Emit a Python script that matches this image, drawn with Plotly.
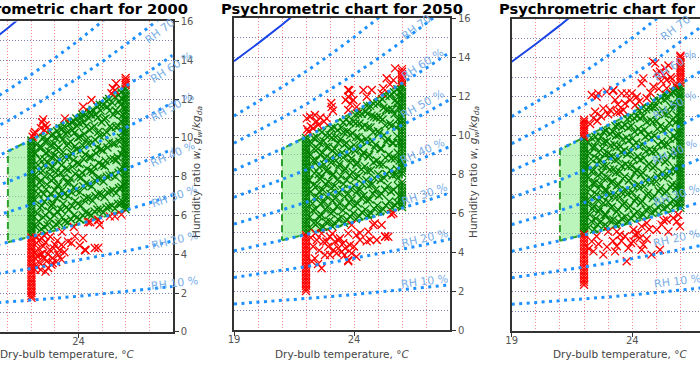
import plotly.graph_objects as go

FIG_W, FIG_H = 700, 366

# ---------------- data ----------------
T_GRID = [19, 20, 21, 22, 23, 24, 25, 26, 27, 28]
RH10_W = [1.352, 1.439, 1.531, 1.628, 1.730, 1.838, 1.952, 2.072, 2.198, 2.331]
RH20_W = [2.710, 2.885, 3.069, 3.264, 3.470, 3.687, 3.916, 4.157, 4.411, 4.679]
RH30_W = [4.074, 4.338, 4.616, 4.909, 5.219, 5.547, 5.892, 6.256, 6.640, 7.044]
RH40_W = [5.444, 5.797, 6.169, 6.563, 6.979, 7.418, 7.881, 8.369, 8.885, 9.428]
RH50_W = [6.820, 7.264, 7.731, 8.225, 8.748, 9.300, 9.882, 10.497, 11.146, 11.830]
RH60_W = [8.202, 8.737, 9.300, 9.896, 10.527, 11.193, 11.896, 12.640, 13.423, 14.250]
RH70_W = [9.590, 10.217, 10.877, 11.576, 12.316, 13.098, 13.923, 14.796, 15.717, 16.689]
RH80_W = [10.980, 11.704, 12.462, 13.265, 14.115, 15.014, 15.960, 16.967, 18.030, 19.150]
SAT_T = [19, 20, 21, 22]
SAT_W = [13.791, 14.699, 15.656, 16.671]

COMFORT_T = [21, 22, 23, 24, 25, 26]
COMFORT_LOW = [4.616, 4.909, 5.219, 5.547, 5.892, 6.256]
COMFORT_HIGH = [9.300, 9.896, 10.527, 11.193, 11.896, 12.640]

RH_LABELS = ["RH 10 %", "RH 20 %", "RH 30 %", "RH 40 %", "RH 50 %", "RH 60 %", "RH 70"]
RH_LABEL_T = [26.95, 26.95, 26.95, 26.85, 26.85, 26.85, 26.6]
RH_LABEL_W = [2.50, 4.72, 6.95, 9.15, 11.55, 13.62, 15.5]
RH_LABEL_ANGLE = [7, 13, 19, 24, 29, 33, 37]

YEARS = ["2000", "2050", "2080"]

# ---- 2000 ----
GREEN_2000 = [
    (22.18, 5.4), (22.25, 6.1), (22.15, 6.8), (22.3, 7.4), (22.2, 8.0), (22.28, 8.6), (22.17, 9.2), (22.26, 9.7),
    (22.42, 5.3), (22.5, 5.9), (22.44, 6.5), (22.52, 7.1), (22.4, 7.8), (22.48, 8.3), (22.55, 8.9), (22.43, 9.5), (22.5, 10.0),
    (22.68, 5.5), (22.75, 6.2), (22.7, 6.9), (22.66, 7.6), (22.78, 8.1), (22.7, 8.7), (22.74, 9.3), (22.68, 9.9),
    (22.93, 5.4), (22.98, 6.0), (22.9, 6.6), (23.0, 7.3), (22.95, 7.9), (22.92, 8.5), (23.0, 9.1), (22.96, 9.7), (22.9, 10.2),
    (23.18, 5.6), (23.25, 6.3), (23.2, 7.0), (23.15, 7.6), (23.24, 8.2), (23.2, 8.9), (23.16, 9.5), (23.22, 10.1), (23.2, 10.5),
    (23.43, 5.7), (23.48, 6.4), (23.4, 7.1), (23.5, 7.7), (23.45, 8.4), (23.42, 9.0), (23.5, 9.6), (23.46, 10.2), (23.4, 10.6),
    (23.68, 5.8), (23.72, 6.5), (23.7, 7.2), (23.66, 7.9), (23.74, 8.5), (23.7, 9.2), (23.66, 9.8), (23.73, 10.4), (23.7, 10.8),
    (23.93, 5.9), (23.97, 6.6), (23.9, 7.3), (24.0, 8.0), (23.95, 8.7), (23.92, 9.4), (23.98, 10.0), (23.94, 10.6), (23.9, 11.0),
    (24.18, 6.0), (24.23, 6.8), (24.2, 7.5), (24.15, 8.2), (24.22, 8.9), (24.18, 9.6), (24.24, 10.2), (24.2, 10.8), (24.16, 11.2),
    (24.43, 6.1), (24.48, 6.9), (24.42, 7.6), (24.5, 8.3), (24.45, 9.0), (24.4, 9.7), (24.47, 10.4), (24.44, 11.0), (24.5, 11.3),
    (24.68, 6.2), (24.72, 7.0), (24.7, 7.8), (24.66, 8.5), (24.74, 9.2), (24.7, 9.9), (24.67, 10.6), (24.72, 11.2),
    (24.93, 6.3), (24.97, 7.1), (24.92, 7.9), (25.0, 8.6), (24.95, 9.4), (24.9, 10.1), (24.98, 10.8), (24.94, 11.4), (24.9, 11.7),
    (25.18, 6.4), (25.22, 7.2), (25.2, 8.0), (25.15, 8.8), (25.23, 9.5), (25.19, 10.3), (25.16, 11.0), (25.22, 11.6), (25.2, 11.9),
    (25.43, 6.5), (25.47, 7.3), (25.42, 8.1), (25.5, 8.9), (25.45, 9.7), (25.4, 10.5), (25.48, 11.2), (25.44, 11.8),
    (25.68, 6.6), (25.72, 7.4), (25.7, 8.2), (25.66, 9.0), (25.74, 9.8), (25.7, 10.6), (25.67, 11.3), (25.72, 11.9), (25.7, 12.2),
    (25.88, 6.7), (25.9, 7.6), (25.85, 8.5), (25.9, 9.4), (25.87, 10.3), (25.9, 11.2), (25.86, 12.0),
    # second, interleaved layer of the dense cloud
    (22.3, 5.7), (22.36, 6.4), (22.29, 7.1), (22.35, 7.7), (22.31, 8.3), (22.37, 8.9), (22.33, 9.5),
    (22.55, 5.4), (22.6, 6.0), (22.56, 6.7), (22.62, 7.35), (22.58, 8.0), (22.54, 8.6), (22.6, 9.2), (22.57, 9.8),
    (22.8, 5.8), (22.86, 6.5), (22.81, 7.1), (22.85, 7.8), (22.79, 8.4), (22.84, 9.0), (22.82, 9.6), (22.86, 10.1),
    (23.05, 5.55), (23.1, 6.2), (23.06, 6.9), (23.11, 7.5), (23.04, 8.2), (23.09, 8.8), (23.07, 9.4), (23.03, 10.0), (23.09, 10.35),
    (23.3, 5.9), (23.35, 6.6), (23.31, 7.3), (23.36, 7.95), (23.29, 8.6), (23.34, 9.25), (23.32, 9.9), (23.3, 10.45),
    (23.55, 5.65), (23.6, 6.3), (23.56, 7.0), (23.61, 7.7), (23.54, 8.35), (23.59, 9.0), (23.57, 9.7), (23.53, 10.3), (23.6, 10.7),
    (23.8, 6.0), (23.85, 6.75), (23.81, 7.45), (23.86, 8.15), (23.79, 8.85), (23.84, 9.55), (23.82, 10.25), (23.8, 10.85),
    (24.05, 5.8), (24.1, 6.5), (24.06, 7.2), (24.11, 7.95), (24.04, 8.65), (24.09, 9.35), (24.07, 10.05), (24.03, 10.75), (24.1, 11.05),
    (24.3, 6.15), (24.35, 6.9), (24.31, 7.65), (24.36, 8.4), (24.29, 9.15), (24.34, 9.9), (24.32, 10.6), (24.3, 11.2),
    (24.55, 6.0), (24.6, 6.75), (24.56, 7.5), (24.61, 8.25), (24.54, 9.0), (24.59, 9.75), (24.57, 10.5), (24.53, 11.2), (24.6, 11.45),
    (24.8, 6.3), (24.85, 7.1), (24.81, 7.9), (24.86, 8.7), (24.79, 9.5), (24.84, 10.3), (24.82, 11.05), (24.8, 11.6),
    (25.05, 6.15), (25.1, 6.95), (25.06, 7.75), (25.11, 8.55), (25.04, 9.35), (25.09, 10.15), (25.07, 10.95), (25.05, 11.7),
    (25.3, 6.45), (25.35, 7.25), (25.31, 8.05), (25.36, 8.9), (25.29, 9.75), (25.34, 10.6), (25.32, 11.4), (25.3, 12.0),
    (25.55, 6.35), (25.6, 7.15), (25.56, 8.0), (25.61, 8.85), (25.54, 9.7), (25.59, 10.55), (25.57, 11.4), (25.55, 12.1),
    (25.8, 6.6), (25.82, 7.45), (25.79, 8.3), (25.83, 9.15), (25.8, 10.0), (25.81, 10.85), (25.79, 11.7), (25.82, 12.35),
]
G22_2000 = [5.0, 5.12, 5.27, 5.4, 5.55, 5.68, 5.83, 5.97, 6.1, 6.26, 6.4, 6.53, 6.68, 6.82, 6.95, 7.1, 7.24, 7.37,
            7.52, 7.66, 7.8, 7.94, 8.08, 8.22, 8.36, 8.5, 8.64, 8.78, 8.92, 9.06, 9.2, 9.34, 9.48, 9.62, 9.76, 9.86]
G26_2000 = [6.32, 6.46, 6.6, 6.75, 6.9, 7.04, 7.18, 7.33, 7.47, 7.62, 7.76, 7.9, 8.05, 8.2, 8.34, 8.48, 8.63, 8.77,
            8.92, 9.06, 9.2, 9.35, 9.5, 9.64, 9.78, 9.93, 10.07, 10.22, 10.36, 10.5, 10.65, 10.8, 10.94, 11.08,
            11.22, 11.37, 11.52, 11.66, 11.8, 11.95, 12.1, 12.24, 12.38, 12.52]
RED_2000 = [
    (22.22, 4.58), (22.29, 3.63), (22.36, 3.97), (22.43, 4.84), (22.5, 4.41), (22.64, 3.63), (22.71, 3.29),
    (22.78, 4.23), (22.85, 3.46), (23.0, 4.49), (23.14, 3.97), (23.28, 3.72), (23.28, 4.49), (23.3, 5.15),
    (23.7, 4.58), (23.84, 4.92), (23.8, 5.4), (24.19, 4.83), (24.27, 4.23), (24.41, 5.65), (24.69, 4.32),
    (24.83, 4.32), (24.83, 5.78), (24.9, 5.52), (25.33, 5.95), (25.54, 5.95), (25.82, 6.04),
    (22.15, 4.1), (22.2, 3.4), (22.3, 4.3), (22.4, 3.5), (22.45, 4.0), (22.55, 3.8), (22.6, 4.6), (22.55, 4.95),
    (22.35, 4.75), (22.7, 4.0), (22.9, 3.8), (22.95, 4.3), (23.1, 4.7), (23.2, 4.2), (22.8, 4.9), (22.25, 3.9),
    (22.15, 3.2), (23.05, 3.6), (23.4, 4.1), (23.55, 4.65), (24.05, 4.45), (24.3, 4.2), (24.85, 5.75),
    (22.6, 3.1), (22.4, 3.2), (22.9, 3.55), (22.2, 4.85), (24.5, 5.65),
    (22.05, 10.05), (22.1, 10.2), (22.15, 10.3), (22.4, 10.5), (22.45, 10.8), (22.5, 10.95), (22.55, 10.4),
    (22.65, 10.5), (22.6, 10.65), (23.42, 11.0), (24.2, 11.6), (24.55, 11.95), (25.4, 12.3), (25.46, 12.55),
    (25.6, 12.8), (25.55, 12.45),
]
R22_2000 = [1.75, 1.86, 2.0, 2.13, 2.27, 2.41, 2.55, 2.68, 2.82, 2.96, 3.1, 3.23, 3.37, 3.51, 3.65, 3.78,
            3.92, 4.06, 4.2, 4.33, 4.47, 4.61, 4.74, 4.86]
R26_2000 = [12.72, 12.84, 12.96, 13.08]

# ---- 2050 ----
GREEN_2050 = [
    (22.22, 5.2), (22.16, 5.8), (22.27, 6.5), (22.2, 7.1), (22.14, 7.7), (22.25, 8.4), (22.19, 9.0), (22.23, 9.6),
    (22.47, 5.5), (22.4, 6.2), (22.5, 6.8), (22.45, 7.4), (22.53, 8.0), (22.41, 8.7), (22.49, 9.3), (22.44, 9.9),
    (22.72, 5.3), (22.65, 5.9), (22.76, 6.6), (22.7, 7.2), (22.64, 7.9), (22.75, 8.5), (22.69, 9.1), (22.73, 9.7), (22.66, 10.15),
    (22.97, 5.6), (22.9, 6.3), (23.01, 7.0), (22.94, 7.6), (22.89, 8.2), (23.0, 8.8), (22.93, 9.4), (22.98, 10.0),
    (23.22, 5.45), (23.15, 6.1), (23.26, 6.8), (23.2, 7.4), (23.14, 8.0), (23.25, 8.7), (23.19, 9.3), (23.23, 9.9), (23.17, 10.4),
    (23.47, 5.8), (23.4, 6.5), (23.51, 7.2), (23.45, 7.9), (23.39, 8.5), (23.5, 9.1), (23.44, 9.8), (23.48, 10.4),
    (23.72, 5.65), (23.65, 6.3), (23.76, 7.0), (23.7, 7.7), (23.64, 8.3), (23.75, 9.0), (23.69, 9.6), (23.73, 10.2), (23.67, 10.8),
    (23.97, 6.0), (23.9, 6.7), (24.01, 7.4), (23.95, 8.1), (23.89, 8.8), (24.0, 9.5), (23.94, 10.1), (23.98, 10.7),
    (24.22, 5.85), (24.15, 6.5), (24.26, 7.2), (24.2, 7.9), (24.14, 8.6), (24.25, 9.3), (24.19, 9.9), (24.23, 10.6), (24.17, 11.1),
    (24.47, 6.2), (24.4, 6.9), (24.51, 7.7), (24.45, 8.4), (24.39, 9.1), (24.5, 9.8), (24.44, 10.5), (24.48, 11.2),
    (24.72, 6.0), (24.65, 6.7), (24.76, 7.5), (24.7, 8.2), (24.64, 9.0), (24.75, 9.7), (24.69, 10.4), (24.73, 11.0), (24.67, 11.5),
    (24.97, 6.4), (24.9, 7.2), (25.01, 8.0), (24.95, 8.7), (24.89, 9.5), (25.0, 10.2), (24.94, 10.9), (24.98, 11.6),
    (25.22, 6.2), (25.15, 7.0), (25.26, 7.8), (25.2, 8.5), (25.14, 9.3), (25.25, 10.0), (25.19, 10.8), (25.23, 11.4), (25.17, 11.85),
    (25.47, 6.6), (25.4, 7.4), (25.51, 8.2), (25.45, 9.0), (25.39, 9.8), (25.5, 10.6), (25.44, 11.3), (25.48, 12.0),
    (25.72, 6.4), (25.65, 7.2), (25.76, 8.0), (25.7, 8.8), (25.64, 9.6), (25.75, 10.4), (25.69, 11.1), (25.73, 11.8), (25.67, 12.2),
    (25.88, 6.9), (25.84, 7.8), (25.9, 8.7), (25.86, 9.6), (25.89, 10.5), (25.85, 11.4), (25.9, 12.2),
    # second, interleaved layer of the dense cloud
    (22.33, 5.5), (22.29, 6.15), (22.36, 6.8), (22.31, 7.45), (22.35, 8.05), (22.3, 8.7), (22.34, 9.3), (22.32, 9.85),
    (22.58, 5.2), (22.54, 5.85), (22.61, 6.5), (22.56, 7.1), (22.6, 7.75), (22.55, 8.35), (22.59, 9.0), (22.57, 9.6),
    (22.83, 5.55), (22.79, 6.2), (22.86, 6.85), (22.81, 7.5), (22.85, 8.15), (22.8, 8.8), (22.84, 9.4), (22.82, 10.0),
    (23.08, 5.35), (23.04, 6.0), (23.11, 6.65), (23.06, 7.3), (23.1, 7.95), (23.05, 8.6), (23.09, 9.2), (23.07, 9.85), (23.05, 10.35),
    (23.33, 5.7), (23.29, 6.35), (23.36, 7.05), (23.31, 7.7), (23.35, 8.35), (23.3, 9.0), (23.34, 9.6), (23.32, 10.25),
    (23.58, 5.5), (23.54, 6.15), (23.61, 6.85), (23.56, 7.5), (23.6, 8.2), (23.55, 8.85), (23.59, 9.5), (23.57, 10.15), (23.55, 10.65),
    (23.83, 5.85), (23.79, 6.55), (23.86, 7.25), (23.81, 7.95), (23.85, 8.6), (23.8, 9.3), (23.84, 10.0), (23.82, 10.65),
    (24.08, 5.7), (24.04, 6.4), (24.11, 7.1), (24.06, 7.8), (24.1, 8.5), (24.05, 9.2), (24.09, 9.9), (24.07, 10.6), (24.05, 11.05),
    (24.33, 6.05), (24.29, 6.8), (24.36, 7.5), (24.31, 8.25), (24.35, 8.95), (24.3, 9.7), (24.34, 10.4), (24.32, 11.1),
    (24.58, 5.9), (24.54, 6.65), (24.61, 7.4), (24.56, 8.15), (24.6, 8.9), (24.55, 9.65), (24.59, 10.4), (24.57, 11.1), (24.55, 11.5),
    (24.83, 6.25), (24.79, 7.0), (24.86, 7.8), (24.81, 8.6), (24.85, 9.35), (24.8, 10.15), (24.84, 10.95), (24.82, 11.6),
    (25.08, 6.1), (25.04, 6.9), (25.11, 7.7), (25.06, 8.5), (25.1, 9.3), (25.05, 10.1), (25.09, 10.9), (25.07, 11.7),
    (25.33, 6.4), (25.29, 7.2), (25.36, 8.0), (25.31, 8.85), (25.35, 9.65), (25.3, 10.5), (25.34, 11.3), (25.32, 12.0),
    (25.58, 6.3), (25.54, 7.1), (25.61, 7.95), (25.56, 8.8), (25.6, 9.6), (25.55, 10.45), (25.59, 11.3), (25.57, 12.1),
    (25.8, 6.55), (25.83, 7.4), (25.79, 8.25), (25.82, 9.1), (25.8, 9.95), (25.83, 10.8), (25.79, 11.65), (25.81, 12.35),
]
G22_2050 = [5.02, 5.15, 5.29, 5.42, 5.56, 5.7, 5.84, 5.98, 6.12, 6.25, 6.39, 6.53, 6.67, 6.8, 6.94, 7.08, 7.22,
            7.36, 7.5, 7.63, 7.77, 7.91, 8.05, 8.19, 8.33, 8.46, 8.6, 8.74, 8.88, 9.02, 9.16, 9.3, 9.44, 9.58, 9.72, 9.85]
G26_2050 = [6.32, 6.46, 6.6, 6.74, 6.88, 7.02, 7.16, 7.3, 7.44, 7.58, 8.05, 8.19, 8.33, 8.47, 8.62, 8.76, 8.9,
            9.04, 9.18, 9.33, 9.47, 9.61, 9.75, 9.9, 10.04, 10.18, 10.32, 10.47, 10.61, 10.75, 10.89, 11.04,
            11.18, 11.32, 11.46, 11.61, 11.75, 11.89, 12.03, 12.18, 12.32, 12.46, 12.56]
RED_2050 = [
    (22.38, 4.98), (22.65, 4.97), (22.45, 4.63), (22.72, 4.54), (23.0, 4.8), (23.2, 4.54), (23.42, 4.72),
    (23.55, 4.46), (23.76, 4.97), (23.9, 5.4), (24.1, 4.88), (24.25, 4.63), (23.83, 4.37), (23.63, 4.2),
    (23.35, 4.2), (23.14, 4.12), (22.93, 4.29), (23.0, 3.86), (23.28, 3.95), (23.49, 4.03), (23.76, 3.6),
    (24.1, 3.77), (23.9, 3.95), (22.65, 3.18), (22.37, 3.69), (22.79, 3.86), (24.6, 5.05), (24.87, 5.48),
    (25.15, 5.4), (24.67, 4.63), (24.95, 4.63), (25.3, 4.8), (25.43, 4.8), (25.64, 6.0), (22.24, 3.54),
    (23.76, 3.54), (24.8, 5.41), (25.55, 5.95), (25.3, 4.82), (24.53, 4.56), (24.25, 4.99), (22.3, 4.3),
    (22.55, 4.1), (22.2, 4.75), (23.1, 4.95), (23.35, 4.6), (24.0, 4.3), (22.85, 4.55), (23.6, 3.85), (22.5, 3.4),
    (22.03, 10.86), (22.17, 10.94), (22.37, 11.03), (22.51, 10.52), (22.1, 10.17), (22.86, 10.86), (23.07, 11.45),
    (23.12, 11.25), (23.76, 12.31), (23.76, 11.97), (23.76, 11.29), (23.97, 11.8), (24.11, 11.45), (23.85, 11.6),
    (24.39, 12.31), (24.74, 12.31), (24.53, 11.97), (25.22, 12.4), (25.36, 12.91), (25.71, 13.42), (25.64, 12.82),
    (25.15, 12.14), (22.05, 10.3), (22.2, 10.45), (22.3, 10.35), (23.65, 11.8), (23.8, 12.3), (22.6, 10.9),
    (22.75, 10.7), (22.45, 10.7), (23.05, 11.65), (23.9, 12.1), (25.5, 12.6),
]
R22_2050 = [2.02, 2.15, 2.29, 2.43, 2.57, 2.7, 2.84, 2.98, 3.12, 3.25, 3.39, 3.53, 3.67, 3.8, 3.94, 4.08,
            4.22, 4.35, 4.49, 4.63, 4.77, 4.88]
R26_2050 = [12.72, 12.85, 12.98, 13.12, 13.25, 13.38]

# ---- 2080 ----
GREEN_2080 = [
    (22.19, 5.3), (22.24, 5.95), (22.17, 6.6), (22.26, 7.25), (22.2, 7.85), (22.15, 8.45), (22.24, 9.1), (22.18, 9.65),
    (22.43, 5.2), (22.49, 5.75), (22.41, 6.4), (22.52, 7.0), (22.46, 7.6), (22.4, 8.25), (22.51, 8.85), (22.45, 9.45), (22.47, 9.95),
    (22.71, 5.6), (22.66, 6.25), (22.75, 6.85), (22.69, 7.5), (22.73, 8.1), (22.67, 8.75), (22.76, 9.35), (22.7, 9.95),
    (22.96, 5.35), (22.91, 5.95), (23.0, 6.6), (22.94, 7.2), (22.98, 7.85), (22.92, 8.45), (23.01, 9.1), (22.95, 9.7), (22.9, 10.25),
    (23.21, 5.7), (23.16, 6.35), (23.25, 7.0), (23.19, 7.65), (23.23, 8.3), (23.17, 8.95), (23.26, 9.55), (23.2, 10.2),
    (23.46, 5.55), (23.41, 6.2), (23.5, 6.85), (23.44, 7.5), (23.48, 8.15), (23.42, 8.8), (23.51, 9.45), (23.45, 10.05), (23.4, 10.55),
    (23.71, 5.85), (23.66, 6.55), (23.75, 7.2), (23.69, 7.9), (23.73, 8.55), (23.67, 9.25), (23.76, 9.9), (23.7, 10.55),
    (23.96, 5.75), (23.91, 6.4), (24.0, 7.1), (23.94, 7.8), (23.98, 8.45), (23.92, 9.15), (24.01, 9.85), (23.95, 10.5), (23.9, 10.95),
    (24.21, 6.1), (24.16, 6.8), (24.25, 7.5), (24.19, 8.25), (24.23, 8.95), (24.17, 9.65), (24.26, 10.35), (24.2, 11.0),
    (24.46, 5.95), (24.41, 6.65), (24.5, 7.4), (24.44, 8.1), (24.48, 8.85), (24.42, 9.55), (24.51, 10.3), (24.45, 11.0), (24.4, 11.4),
    (24.71, 6.3), (24.66, 7.05), (24.75, 7.8), (24.69, 8.55), (24.73, 9.3), (24.67, 10.05), (24.76, 10.8), (24.7, 11.45),
    (24.96, 6.15), (24.91, 6.9), (25.0, 7.65), (24.94, 8.45), (24.98, 9.2), (24.92, 10.0), (25.01, 10.75), (24.95, 11.5), (24.9, 11.75),
    (25.21, 6.5), (25.16, 7.3), (25.25, 8.1), (25.19, 8.9), (25.23, 9.7), (25.17, 10.5), (25.26, 11.3), (25.2, 11.95),
    (25.46, 6.35), (25.41, 7.15), (25.5, 7.95), (25.44, 8.75), (25.48, 9.55), (25.42, 10.35), (25.51, 11.15), (25.45, 11.9), (25.4, 12.1),
    (25.71, 6.7), (25.66, 7.5), (25.75, 8.35), (25.69, 9.15), (25.73, 10.0), (25.67, 10.8), (25.76, 11.6), (25.7, 12.25),
    (25.89, 6.55), (25.85, 7.45), (25.9, 8.35), (25.86, 9.25), (25.88, 10.15), (25.84, 11.05), (25.9, 11.95), (25.86, 12.45),
    # second, interleaved layer of the dense cloud
    (22.31, 5.6), (22.35, 6.25), (22.3, 6.9), (22.36, 7.55), (22.32, 8.15), (22.29, 8.8), (22.34, 9.4), (22.3, 9.9),
    (22.56, 5.45), (22.6, 6.1), (22.55, 6.7), (22.61, 7.3), (22.57, 7.95), (22.54, 8.55), (22.6, 9.15), (22.58, 9.75),
    (22.81, 5.35), (22.85, 5.95), (22.8, 6.55), (22.86, 7.2), (22.82, 7.8), (22.79, 8.45), (22.85, 9.05), (22.83, 9.65), (22.8, 10.2),
    (23.06, 5.65), (23.1, 6.3), (23.05, 6.95), (23.11, 7.6), (23.07, 8.25), (23.04, 8.9), (23.1, 9.5), (23.08, 10.1),
    (23.31, 5.45), (23.35, 6.1), (23.3, 6.8), (23.36, 7.45), (23.32, 8.1), (23.29, 8.75), (23.35, 9.4), (23.33, 10.0), (23.3, 10.5),
    (23.56, 5.75), (23.6, 6.45), (23.55, 7.1), (23.61, 7.8), (23.57, 8.45), (23.54, 9.15), (23.6, 9.8), (23.58, 10.45),
    (23.81, 5.6), (23.85, 6.3), (23.8, 7.0), (23.86, 7.7), (23.82, 8.4), (23.79, 9.05), (23.85, 9.75), (23.83, 10.4), (23.8, 10.85),
    (24.06, 5.95), (24.1, 6.65), (24.05, 7.4), (24.11, 8.1), (24.07, 8.8), (24.04, 9.5), (24.1, 10.2), (24.08, 10.9),
    (24.31, 5.85), (24.35, 6.55), (24.3, 7.3), (24.36, 8.0), (24.32, 8.75), (24.29, 9.45), (24.35, 10.2), (24.33, 10.9), (24.3, 11.3),
    (24.56, 6.2), (24.6, 6.95), (24.55, 7.7), (24.61, 8.45), (24.57, 9.2), (24.54, 9.95), (24.6, 10.7), (24.58, 11.35),
    (24.81, 6.05), (24.85, 6.8), (24.8, 7.6), (24.86, 8.35), (24.82, 9.15), (24.79, 9.9), (24.85, 10.7), (24.83, 11.45),
    (25.06, 6.35), (25.1, 7.15), (25.05, 7.95), (25.11, 8.75), (25.07, 9.55), (25.04, 10.35), (25.1, 11.15), (25.08, 11.8),
    (25.31, 6.25), (25.35, 7.05), (25.3, 7.85), (25.36, 8.65), (25.32, 9.5), (25.29, 10.3), (25.35, 11.1), (25.33, 11.85),
    (25.56, 6.55), (25.6, 7.35), (25.55, 8.2), (25.61, 9.0), (25.57, 9.85), (25.54, 10.65), (25.6, 11.5), (25.58, 12.15),
    (25.79, 6.45), (25.82, 7.3), (25.8, 8.15), (25.83, 9.0), (25.79, 9.85), (25.82, 10.7), (25.8, 11.55), (25.81, 12.3),
]
G22_2080 = [5.01, 5.14, 5.28, 5.41, 5.55, 5.69, 5.83, 5.97, 6.11, 6.24, 6.38, 6.52, 6.66, 6.79, 6.93, 7.07,
            7.21, 7.35, 7.49, 7.62, 7.76, 7.9, 8.04, 8.18, 8.32, 8.45, 8.59, 8.73, 8.87, 9.01, 9.15, 9.29, 9.43,
            9.57, 9.71, 9.84]
G26_2080 = [6.3, 6.44, 6.58, 6.72, 6.87, 7.01, 7.15, 7.29, 7.43, 7.58, 7.72, 7.86, 8.0, 8.14, 8.29, 8.43,
            8.57, 8.71, 8.85, 9.0, 9.14, 9.28, 9.42, 9.56, 9.71, 9.85, 9.99, 10.13, 10.27, 10.42, 10.56, 10.7,
            10.84, 10.98, 11.13, 11.27, 11.41, 11.55, 11.69, 11.84, 11.98, 12.12, 12.26, 12.4, 12.54]
RED_2080 = [
    (22.32, 4.58), (22.52, 4.84), (22.39, 4.07), (22.8, 3.9), (23.36, 5.08), (23.49, 4.92), (23.29, 4.07),
    (23.36, 4.33), (23.77, 3.56), (23.84, 4.24), (24.05, 4.58), (24.12, 4.92), (24.32, 4.75), (24.46, 4.41),
    (24.39, 4.15), (24.05, 5.18), (24.39, 5.35), (24.6, 5.52), (24.8, 3.9), (25.02, 5.18), (25.15, 4.15),
    (25.22, 5.44), (25.43, 5.69), (25.5, 5.08), (25.7, 5.78), (25.91, 5.95), (25.98, 5.35), (23.7, 4.84),
    (23.0, 5.08), (22.2, 4.2), (22.6, 4.45), (23.55, 4.6), (23.95, 4.5), (24.25, 5.0), (24.7, 5.2),
    (25.3, 5.65), (25.85, 5.6), (24.6, 4.7), (23.2, 4.6), (22.95, 4.3),
    (22.39, 10.9), (22.46, 11.23), (22.32, 12.09), (22.59, 12.17), (22.94, 12.26), (23.22, 12.34), (23.29, 11.83),
    (22.8, 11.4), (23.08, 11.32), (23.35, 11.2), (23.49, 11.23), (23.63, 11.32), (23.56, 12.17), (23.77, 12.17),
    (23.98, 12.17), (23.91, 11.83), (24.19, 12.0), (24.12, 11.57), (24.39, 12.69), (24.46, 12.94), (24.6, 11.92),
    (24.88, 12.51), (24.95, 13.71), (25.02, 13.2), (25.15, 13.28), (25.3, 13.1), (25.43, 12.86), (25.36, 13.46),
    (25.43, 12.43), (25.78, 12.6), (22.52, 12.0), (23.2, 12.3), (22.25, 10.6), (22.55, 10.75), (22.7, 11.0),
    (23.0, 11.1), (23.4, 11.6), (23.7, 11.65), (24.3, 11.75), (24.75, 12.2), (25.1, 12.4), (25.6, 13.0),
    (25.2, 12.8), (24.85, 13.8), (25.5, 13.6), (25.65, 12.9),
]
R22_2080 = [2.36, 2.5, 2.63, 2.77, 2.9, 3.04, 3.17, 3.31, 3.45, 3.58, 3.72, 3.85, 3.99, 4.12, 4.26, 4.4,
            4.53, 4.67, 4.8, 4.93, 9.95, 10.08, 10.2, 10.33, 10.46, 10.58, 10.7, 10.82]
R26_2080 = [12.72, 12.85, 12.98, 13.11, 13.24, 13.37, 13.5, 13.63, 13.76, 13.89, 14.02, 14.1]

# ---------------- layout geometry (pixels of the 700x366 page) ----------------
PANELS = [
    dict(x0=0.0, x1=172.7, xr=[20.665, 28.0], yb=331.8, yt=21.4, yside="right", ymirror=False,
         yticks=True, center=66.7, ylab_x=197.0),
    dict(x0=234.0, x1=450.0, xr=[19.0, 28.0], yb=330.4, yt=18.0, yside="right", ymirror=True,
         yticks=True, center=342.0, ylab_x=474.0),
    dict(x0=511.7, x1=700.0, xr=[19.0, 26.81], yb=330.7, yt=18.7, yside="left", ymirror=False,
         yticks=False, center=620.0, ylab_x=None),
]
DATA = [
    (GREEN_2000, G22_2000, G26_2000, RED_2000, R22_2000, R26_2000),
    (GREEN_2050, G22_2050, G26_2050, RED_2050, R22_2050, R26_2050),
    (GREEN_2080, G22_2080, G26_2080, RED_2080, R22_2080, R26_2080),
]
RH_SERIES = [RH10_W, RH20_W, RH30_W, RH40_W, RH50_W, RH60_W, RH70_W, RH80_W]

FONT = "DejaVu Sans"
RED_GRID = "rgba(255,0,0,0.45)"
NAVY_GRID = "rgba(20,20,110,0.55)"
SPINE = "#333333"

fig = go.Figure()
layout = dict(width=FIG_W, height=FIG_H, autosize=False, margin=dict(l=0, r=0, t=0, b=0, autoexpand=False),
              paper_bgcolor="white", plot_bgcolor="white", showlegend=False,
              font=dict(family=FONT, size=10, color="#444"))
annotations = []

poly_T = COMFORT_T + COMFORT_T[::-1] + [COMFORT_T[0]]
poly_W = COMFORT_LOW + COMFORT_HIGH[::-1] + [COMFORT_LOW[0]]

for i, (p, year, d) in enumerate(zip(PANELS, YEARS, DATA)):
    sfx = "" if i == 0 else str(i + 1)
    xa, ya = "x" + sfx, "y" + sfx
    green, g22, g26, red, r22, r26 = d
    common = dict(xaxis=xa, yaxis=ya, hoverinfo="skip", showlegend=False)

    fig.add_trace(go.Scatter(x=poly_T, y=poly_W, mode="lines", fill="toself",
                             fillcolor="rgba(144,238,144,0.6)",
                             line=dict(color="#2ca02c", width=2, dash="7px,4px"), **common))

    gx = [q[0] for q in green] + [22.0] * len(g22) + [26.0] * len(g26)
    gy = [q[1] for q in green] + g22 + g26
    fig.add_trace(go.Scatter(x=gx, y=gy, mode="markers",
                             marker=dict(symbol="x-thin", size=8, color="#008000",
                                         line=dict(width=1.3, color="#008000")), **common))
    rx = [q[0] for q in red] + [22.0] * len(r22) + [26.0] * len(r26)
    ry = [q[1] for q in red] + r22 + r26
    fig.add_trace(go.Scatter(x=rx, y=ry, mode="markers",
                             marker=dict(symbol="x-thin", size=8, color="#ff0000",
                                         line=dict(width=1.3, color="#ff0000")), **common))

    for ws in RH_SERIES:
        fig.add_trace(go.Scatter(x=T_GRID[:len(ws)], y=ws, mode="lines",
                                 line=dict(color="#1e90ff", width=3, dash="3px,4.5px"), **common))
    fig.add_trace(go.Scatter(x=SAT_T, y=SAT_W, mode="lines",
                             line=dict(color="#1a44e6", width=2), **common))

    xdom = [p["x0"] / FIG_W, p["x1"] / FIG_W]
    ydom = [1 - p["yb"] / FIG_H, 1 - p["yt"] / FIG_H]
    layout["xaxis" + sfx] = dict(
        domain=xdom, range=p["xr"], anchor=ya, showline=True, linecolor=SPINE, linewidth=2, mirror=True,
        ticks="outside", ticklen=4, tickwidth=1, tickcolor=SPINE, tick0=19, dtick=5, ticklabelstandoff=-5,
        tickfont=dict(size=10, color="#555", family=FONT), zeroline=False,
        showgrid=True, gridcolor=RED_GRID, gridwidth=1, griddash="1px,2px",
        minor=dict(dtick=1, tick0=19, showgrid=True, gridcolor=RED_GRID, gridwidth=1, griddash="1px,2px"))
    layout["yaxis" + sfx] = dict(
        domain=ydom, range=[0, 16], anchor=xa, side=p["yside"], showline=True, linecolor=SPINE,
        linewidth=2, mirror=p["ymirror"], ticks="outside" if p["yticks"] else "",
        showticklabels=p["yticks"], ticklen=4, tickwidth=1, tickcolor=SPINE, tick0=0, dtick=2,
        tickfont=dict(size=10, color="#555", family=FONT), zeroline=False,
        showgrid=True, gridcolor=NAVY_GRID, gridwidth=1, griddash="1px,2px",
        minor=dict(dtick=1, tick0=0, showgrid=True, gridcolor=NAVY_GRID, gridwidth=1, griddash="1px,2px"))

    def tx(T, p=p):
        return (p["x0"] + (T - p["xr"][0]) / (p["xr"][1] - p["xr"][0]) * (p["x1"] - p["x0"])) / FIG_W

    for txt, T, w, ang in zip(RH_LABELS, RH_LABEL_T, RH_LABEL_W, RH_LABEL_ANGLE):
        annotations.append(dict(text=txt, x=tx(T), y=w, xref="paper", yref=ya, showarrow=False,
                                textangle=-ang, font=dict(size=11, color="#7aaee6", family=FONT)))

    annotations.append(dict(text="<b>Psychrometric chart for " + year + "</b>", x=p["center"] / FIG_W,
                            y=1 - 8.5 / FIG_H, xref="paper", yref="paper", showarrow=False,
                            xanchor="center", yanchor="middle",
                            font=dict(size=14.7, color="black", family=FONT)))
    annotations.append(dict(text="Dry-bulb temperature, °<i>C</i>", x=p["center"] / FIG_W, y=1 - 354 / FIG_H,
                            xref="paper", yref="paper", showarrow=False, xanchor="center", yanchor="middle",
                            font=dict(size=10.5, color="#444", family=FONT)))
    if p["ylab_x"] is not None:
        annotations.append(dict(text="Humidity ratio <i>w</i>, <i>g<sub>w</sub></i>/<i>kg<sub>da</sub></i>",
                                x=p["ylab_x"] / FIG_W, y=1 - 172 / FIG_H, xref="paper", yref="paper",
                                showarrow=False, textangle=-90, xanchor="center", yanchor="middle",
                                font=dict(size=10.5, color="#444", family=FONT)))

layout["annotations"] = annotations
fig.update_layout(**layout)
fig.write_html("out.html", config={"displayModeBar": False, "staticPlot": True},
               post_script="document.body.style.margin='0px';document.body.style.overflow='hidden';")
